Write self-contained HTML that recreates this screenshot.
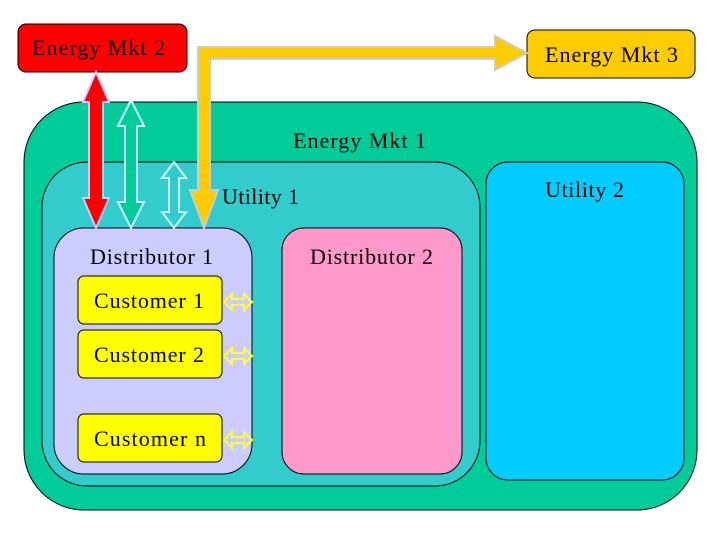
<!DOCTYPE html>
<html><head><style>body{margin:0;background:#fff}svg{display:block}</style></head><body>
<svg width="720" height="540" viewBox="0 0 720 540">
<rect x="18" y="24" width="169" height="48" rx="8" fill="#ff0000" stroke="#000"/>
<rect x="527" y="30" width="168" height="48" rx="8" fill="#ffcc00" stroke="#000"/>
<rect x="24" y="102" width="673" height="408" rx="60" fill="#00cc99" stroke="#000"/>
<rect x="42" y="162" width="438" height="324" rx="45" fill="#33cccc" stroke="#000"/>
<rect x="486" y="162" width="198" height="318" rx="22" fill="#00ccff" stroke="#000"/>
<rect x="54" y="228" width="198" height="246" rx="30" fill="#ccccff" stroke="#000"/>
<rect x="282" y="228" width="180" height="246" rx="22" fill="#ff99cc" stroke="#000"/>
<g fill="#ffff00" stroke="#000">
<rect x="78" y="276" width="144" height="48" rx="6"/>
<rect x="78" y="330" width="144" height="48" rx="6"/>
<rect x="78" y="414" width="144" height="48" rx="6"/>
</g>
<g font-family="'Liberation Serif','Times New Roman','DejaVu Serif',serif" font-size="22" fill="#000">
<text x="32" y="55" textLength="133">Energy Mkt 2</text>
<text x="545" y="62" textLength="133">Energy Mkt 3</text>
<text x="293" y="148" textLength="133">Energy Mkt 1</text>
<text x="222" y="204" textLength="77">Utility 1</text>
<text x="545" y="197" textLength="79">Utility 2</text>
<text x="90" y="264" textLength="123">Distributor 1</text>
<text x="310" y="264" textLength="123">Distributor 2</text>
<text x="94" y="308" textLength="110">Customer 1</text>
<text x="94" y="362" textLength="110">Customer 2</text>
<text x="94" y="446" textLength="112">Customer n</text>
</g>
<g fill="none" stroke="#ffff33" stroke-width="2">
<path d="M224 302 L232 294 L232 299 L244 299 L244 294 L252 302 L244 310 L244 305 L232 305 L232 310 Z"/>
<path d="M224 356 L232 348 L232 353 L244 353 L244 348 L252 356 L244 364 L244 359 L232 359 L232 364 Z"/>
<path d="M224 440 L232 432 L232 437 L244 437 L244 432 L252 440 L244 448 L244 443 L232 443 L232 448 Z"/>
</g>
<path d="M96 72 L109 102 L103 102 L103 198 L109 198 L96 228 L83 198 L89 198 L89 102 L83 102 Z" fill="#ff0000" stroke="#ccccff" stroke-width="2"/>
<path d="M131 100 L144 126 L137 126 L137 202 L144 202 L131 228 L118 202 L125 202 L125 126 L118 126 Z" fill="#00cc99" stroke="#ccffff" stroke-width="2"/>
<path d="M174 162 L186 178 L179 178 L179 212 L186 212 L174 228 L162 212 L169 212 L169 178 L162 178 Z" fill="#33cccc" stroke="#ccffff" stroke-width="2"/>
<path d="M198 47 L495 47 L495 36 L527 53 L495 70 L495 59 L210 59 L210 190 L218 190 L204 228 L190 190 L198 190 Z" fill="#ffcc00" stroke="#cccccc" stroke-width="2"/>
</svg>
</body></html>
